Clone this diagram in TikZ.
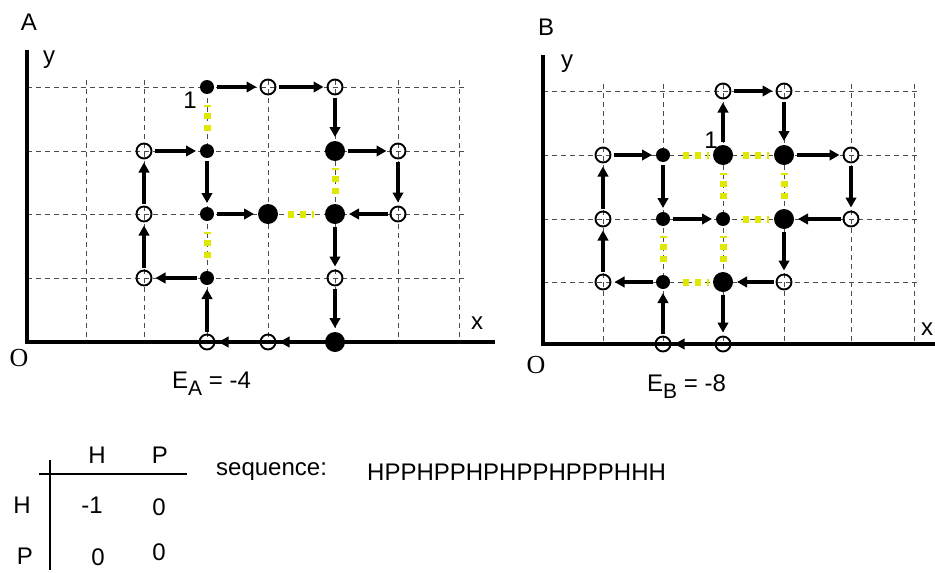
\documentclass[tikz,border=0pt]{standalone}
\usepackage{fontspec}
\setmainfont{Liberation Sans}
\newfontfamily\serifO{Liberation Serif}
\usetikzlibrary{arrows.meta,calc}
\definecolor{contactyellow}{RGB}{222,232,0}
\begin{document}
\begin{tikzpicture}[x=1pt,y=-1pt,
  every node/.style={font=\fontsize{24}{28}\selectfont},
  hs/.style={circle,fill=black,minimum size=14pt,inner sep=0pt,outer sep=0pt},
  hb/.style={circle,fill=black,minimum size=20pt,inner sep=0pt,outer sep=0pt},
  pp/.style={circle,draw=black,line width=1.9pt,minimum size=15pt,inner sep=0pt,outer sep=0pt},
  gridline/.style={draw=black!70,line width=0.9pt,dash pattern=on 5pt off 4pt},
  axisline/.style={line width=4pt},
  arr/.style={line width=4pt,-{Triangle[length=10pt,width=10.5pt]},shorten <=3pt,shorten >=4pt},
  contact/.style={draw=contactyellow,line width=7pt,dash pattern=on 6pt off 6pt},
  txt/.style={inner sep=0pt},
  otxt/.style={inner sep=0pt,font=\serifO\fontsize{26}{30}\selectfont}]
\useasboundingbox (0,0) rectangle (935,573);

% ---------------- Panel A ----------------
\foreach \yy in {278,214,151,87} \draw[gridline] (27,\yy) -- (467,\yy);
\foreach \xx in {86,144,207,268,335,398,459} \draw[gridline] (\xx,80) -- (\xx,342);
\draw[axisline] (27,50) -- (27,342) -- (495,342);

\node[hs] (a1) at (207,87) {};
\node[pp] (a2) at (268,87) {};
\node[pp] (a3) at (335,87) {};
\node[hb] (a4) at (335,151) {};
\node[pp] (a5) at (398,151) {};
\node[pp] (a6) at (398,214) {};
\node[hb] (a7) at (335,214) {};
\node[pp] (a8) at (335,278) {};
\node[hb] (a9) at (335,342) {};
\node[pp] (a10) at (268,342) {};
\node[pp] (a11) at (207,342) {};
\node[hs] (a12) at (207,278) {};
\node[pp] (a13) at (144,278) {};
\node[pp] (a14) at (144,214) {};
\node[pp] (a15) at (144,151) {};
\node[hs] (a16) at (207,151) {};
\node[hs] (a17) at (207,214) {};
\node[hb] (a18) at (268,214) {};

\foreach \u/\v in {a16/a1,a7/a4,a18/a7,a12/a17}
  \draw[contact] ($(\u)!20pt!(\v)$) -- ($(\u)!46pt!(\v)$);

\foreach \i in {1,...,17}{
  \pgfmathtruncatemacro\j{\i+1}
  \draw[arr] (a\i) -- (a\j);
}

\node[txt] (labA) at (29,22) {A};
\node[txt] (yA) at (49,60) {y};
\node[txt] (xA) at (477,323) {x};
\node[otxt] (oA) at (19,358) {O};
\node[txt] (oneA) at (190,100) {1};
\node[txt,anchor=west] (eA) at (172,384) {E\raisebox{-7pt}{\fontsize{21}{24}\selectfont A} = -4};

% ---------------- Panel B ----------------
\foreach \yy in {282,219,155,91} \draw[gridline] (543,\yy) -- (919,\yy);
\foreach \xx in {603,663,723,784,851,914} \draw[gridline] (\xx,84) -- (\xx,344);
\draw[axisline] (543,55) -- (543,344) -- (940,344);

\node[hb] (b1) at (723,155) {};
\node[pp] (b2) at (723,91) {};
\node[pp] (b3) at (784,91) {};
\node[hb] (b4) at (784,155) {};
\node[pp] (b5) at (851,155) {};
\node[pp] (b6) at (851,219) {};
\node[hb] (b7) at (784,219) {};
\node[pp] (b8) at (784,282) {};
\node[hb] (b9) at (723,282) {};
\node[pp] (b10) at (723,344) {};
\node[pp] (b11) at (663,344) {};
\node[hs] (b12) at (663,282) {};
\node[pp] (b13) at (603,282) {};
\node[pp] (b14) at (603,219) {};
\node[pp] (b15) at (603,155) {};
\node[hs] (b16) at (663,155) {};
\node[hs] (b17) at (663,219) {};
\node[hs] (b18) at (723,219) {};

\foreach \u/\v in {b16/b1,b1/b4,b18/b1,b7/b4,b18/b7,b12/b17,b9/b18,b12/b9}
  \draw[contact] ($(\u)!20pt!(\v)$) -- ($(\u)!46pt!(\v)$);

\foreach \i in {1,...,17}{
  \pgfmathtruncatemacro\j{\i+1}
  \draw[arr] (b\i) -- (b\j);
}

\node[txt] (labB) at (546,27) {B};
\node[txt] (yB) at (567,64) {y};
\node[txt] (xB) at (927,329) {x};
\node[otxt] (oB) at (536,365) {O};
\node[txt] (oneB) at (711,140) {1};
\node[txt,anchor=west] (eB) at (647,387) {E\raisebox{-7pt}{\fontsize{21}{24}\selectfont B} = -8};

% ---------------- Table ----------------
\draw[line width=1.5pt] (50,460) -- (50,570);
\draw[line width=1.5pt] (39,474) -- (187,474);
\node[txt] (tH) at (97,455) {H};
\node[txt] (tP) at (160,455) {P};
\node[txt] (rH) at (22,505) {H};
\node[txt] (rP) at (25,556) {P};
\node[txt] (vHH) at (92,505) {-1};
\node[txt] (vHP) at (159,507) {0};
\node[txt] (vPH) at (98,557) {0};
\node[txt] (vPP) at (159,552) {0};
\node[txt,anchor=west] (seqlab) at (216,472) {sequence:};
\node[txt,anchor=west] (seq) at (367,472) {HPPHPPHPHPPHPPPHHH};
\end{tikzpicture}
\end{document}
